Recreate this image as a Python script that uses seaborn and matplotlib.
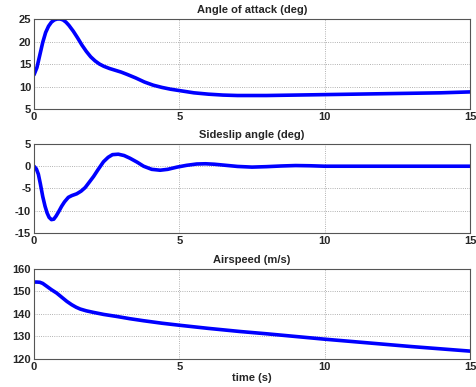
import numpy as np
import pandas as pd
import matplotlib
matplotlib.use("Agg")
import matplotlib.pyplot as plt
import seaborn as sns

# -------------------------
# Data
# -------------------------
t_alpha = [0, 0.1, 0.2, 0.3, 0.4, 0.5, 0.6, 0.7, 0.8, 0.9, 1.0, 1.1, 1.2, 1.35, 1.5,
           1.65, 1.8, 1.95, 2.1, 2.25, 2.4, 2.6, 2.8, 3.0, 3.2, 3.5, 3.8, 4.1, 4.4,
           4.7, 5.0, 5.5, 6.0, 6.5, 7.0, 8.0, 9.0, 10.0, 11.0, 12.0, 13.0, 14.0, 15.0]
alpha = [12.6, 14.2, 17.0, 19.8, 22.0, 23.4, 24.3, 24.8, 25.0, 25.0, 24.8, 24.3, 23.6,
         22.3, 20.8, 19.2, 17.8, 16.6, 15.7, 15.0, 14.5, 14.0, 13.6, 13.2, 12.7, 11.9,
         11.0, 10.3, 9.8, 9.4, 9.1, 8.6, 8.3, 8.1, 8.0, 8.0, 8.1, 8.2, 8.3, 8.4, 8.5,
         8.6, 8.8]

t_beta = [0, 0.08, 0.15, 0.22, 0.3, 0.38, 0.45, 0.52, 0.6, 0.68, 0.76, 0.85, 0.95, 1.05,
          1.18, 1.3, 1.47, 1.62, 1.76, 1.9, 2.05, 2.2, 2.39, 2.55, 2.7, 2.9, 3.1, 3.3,
          3.55, 3.77, 4.05, 4.34, 4.6, 4.92, 5.25, 5.6, 5.9, 6.2, 6.6, 7.0, 7.5, 8.0,
          8.5, 9.0, 9.5, 10.0, 11.0, 12.0, 13.0, 14.0, 15.0]
beta = [0.0, -0.6, -1.8, -4.0, -6.8, -9.0, -10.5, -11.5, -12.0, -11.9, -11.2, -10.2,
        -9.0, -8.0, -7.0, -6.6, -6.2, -5.6, -4.8, -3.6, -2.3, -0.8, 1.0, 2.0, 2.6, 2.7,
        2.4, 1.8, 0.9, 0.0, -0.7, -0.9, -0.7, -0.2, 0.2, 0.5, 0.55, 0.45, 0.2, -0.05,
        -0.2, -0.1, 0.05, 0.15, 0.1, 0.0, 0.0, 0.0, 0.0, 0.0, 0.0]

t_speed = [0, 0.1, 0.2, 0.3, 0.44, 0.6, 0.78, 0.95, 1.13, 1.3, 1.45, 1.59, 1.8, 2.05,
           2.4, 2.85, 3.3, 3.77, 4.4, 5.0, 6.0, 7.1, 8.0, 9.0, 10.0, 11.0, 12.0, 13.0,
           14.0, 15.0]
speed = [154.2, 154.2, 154.1, 153.6, 152.3, 150.8, 149.3, 147.5, 145.6, 144.1, 143.0,
         142.2, 141.4, 140.7, 139.8, 138.9, 137.9, 137.0, 135.9, 135.0, 133.6, 132.2,
         131.2, 130.0, 128.8, 127.7, 126.6, 125.5, 124.5, 123.5]

titles = ["Angle of attack (deg)", "Sideslip angle (deg)", "Airspeed (m/s)"]
yticks = [[5, 10, 15, 20, 25], [-15, -10, -5, 0, 5], [120, 130, 140, 150, 160]]
xticks = [0, 5, 10, 15]

series = [
    pd.DataFrame({"t": t_alpha, "v": alpha}),
    pd.DataFrame({"t": t_beta, "v": beta}),
    pd.DataFrame({"t": t_speed, "v": speed}),
]

sns.set_style("white")
plt.rcParams["font.family"] = ["Liberation Sans", "DejaVu Sans"]
plt.rcParams["font.weight"] = "bold"
plt.rcParams["axes.unicode_minus"] = False

fig = plt.figure(figsize=(4.77, 3.87), dpi=100)
boxes = [[0.0713, 0.7183, 0.914, 0.2326],
         [0.0713, 0.3980, 0.914, 0.2300],
         [0.0713, 0.0724, 0.914, 0.2325]]

for i, df in enumerate(series):
    ax = fig.add_axes(boxes[i])
    sns.lineplot(data=df, x="t", y="v", ax=ax, color="#0000ff", linewidth=2.6)
    ax.set_xlim(0, 15)
    ax.set_ylim(yticks[i][0], yticks[i][-1])
    ax.set_xticks(xticks)
    ax.set_yticks(yticks[i])
    ax.tick_params(direction="in", length=3, labelsize=8, pad=2, color="#444444")
    for lab in ax.get_xticklabels() + ax.get_yticklabels():
        lab.set_fontweight("bold")
    ax.grid(True, linestyle=":", color="#999999", linewidth=0.6)
    for sp in ax.spines.values():
        sp.set_color("#555555")
        sp.set_linewidth(0.8)
    ax.set_title(titles[i], fontsize=8, fontweight="bold", pad=4)
    ax.set_ylabel("")
    ax.set_xlabel("time (s)" if i == 2 else "", fontsize=8, fontweight="bold", labelpad=1)

fig.savefig("out.png", dpi=100)
